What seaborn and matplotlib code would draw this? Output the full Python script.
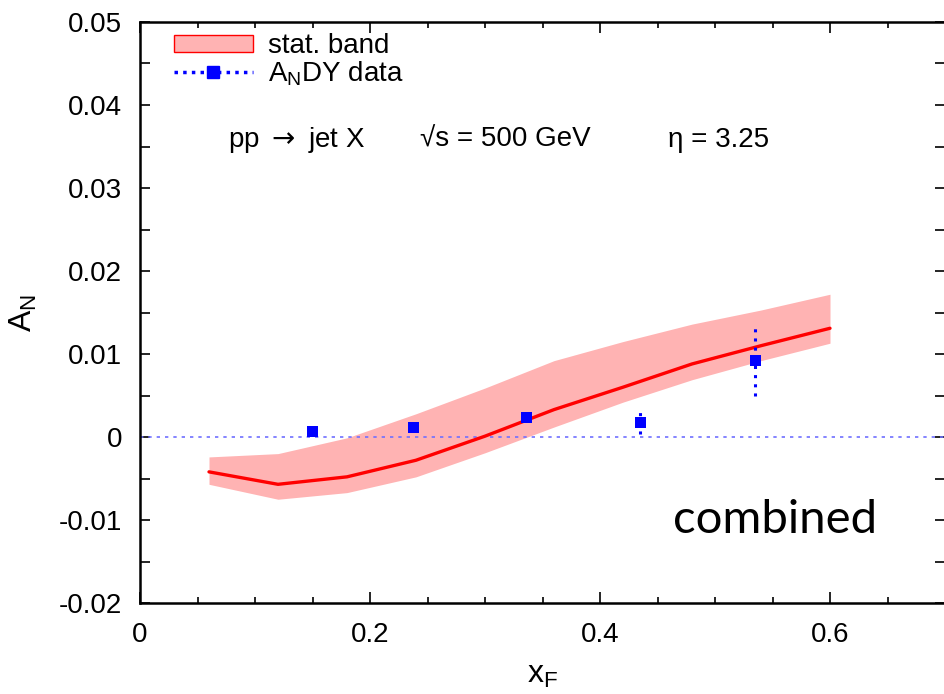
import numpy as np
import pandas as pd
import matplotlib
matplotlib.use("Agg")
import matplotlib.pyplot as plt
from matplotlib.patches import Patch
from matplotlib.lines import Line2D
from matplotlib.ticker import MultipleLocator, FuncFormatter
import seaborn as sns

# Theory curve and its statistical band
xf_theory = [0.06, 0.12, 0.18, 0.24, 0.30, 0.36, 0.42, 0.48, 0.54, 0.60]
an_theory = [-0.0042, -0.0057, -0.0048, -0.0028, 0.0001, 0.0033, 0.0060, 0.0088, 0.0110, 0.0131]
band_low = [-0.0057, -0.0075, -0.0067, -0.0048, -0.0019, 0.0012, 0.0042, 0.0069, 0.0092, 0.0113]
band_high = [-0.0024, -0.0020, -0.0001, 0.0028, 0.0059, 0.0092, 0.0115, 0.0136, 0.0153, 0.0172]

# AnDY measurements
xf_data = [0.150, 0.238, 0.336, 0.435, 0.535]
an_data = [0.0007, 0.0012, 0.0023, 0.0018, 0.0092]
an_err = [0.0004, 0.0004, 0.0004, 0.0014, 0.0042]

sns.set_style("ticks")
plt.rcParams["font.family"] = ["Liberation Sans", "DejaVu Sans"]
plt.rcParams["text.color"] = "black"
plt.rcParams["axes.labelcolor"] = "black"

fig = plt.figure(figsize=(9.44, 6.94), dpi=100)
ax = fig.add_axes([140 / 944, 91 / 694, 805 / 944, 581 / 694])

theory = pd.DataFrame({"xF": xf_theory, "AN": an_theory})
data = pd.DataFrame({"xF": xf_data, "AN": an_data, "err": an_err})

ax.fill_between(xf_theory, band_low, band_high, color="#ffb3b3", lw=0, zorder=1)
sns.lineplot(data=theory, x="xF", y="AN", ax=ax, color="#ff0000", lw=2.4, zorder=3)

ax.axhline(0, color="#6f6fff", lw=1.2, ls=(0, (2, 3)), zorder=2)

eb = ax.errorbar(data["xF"], data["AN"], yerr=data["err"], fmt="none",
                 ecolor="#0000ff", elinewidth=2.2, capsize=0, zorder=4)
for coll in eb[2]:
    coll.set_linestyle((0, (1, 2)))
sns.scatterplot(data=data, x="xF", y="AN", ax=ax, marker="s", s=62,
                color="#0000ff", edgecolor="none", zorder=5)

ax.set_xlim(0, 0.7)
ax.set_ylim(-0.02, 0.05)
ax.xaxis.set_major_locator(MultipleLocator(0.2))
ax.xaxis.set_minor_locator(MultipleLocator(0.05))
ax.yaxis.set_major_locator(MultipleLocator(0.01))
ax.yaxis.set_minor_locator(MultipleLocator(0.005))
ax.xaxis.set_major_formatter(FuncFormatter(lambda v, p: "0" if abs(v) < 1e-9 else f"{v:.1f}"))
ax.yaxis.set_major_formatter(FuncFormatter(lambda v, p: "0" if abs(v) < 1e-9 else f"{v:.2f}"))

ax.tick_params(which="both", direction="in", top=True, right=True,
               labelsize=20, colors="black", width=1.2)
ax.tick_params(axis="x", which="major", length=8, pad=14)
ax.tick_params(axis="x", which="minor", length=4)
ax.tick_params(axis="y", which="both", length=7, pad=13)
for s in ax.spines.values():
    s.set_linewidth(1.8)
    s.set_color("black")

ax.set_xlabel("x$_\\mathregular{F}$", fontsize=23, labelpad=8, color="black")
ax.set_ylabel("A$_\\mathregular{N}$", fontsize=23, labelpad=14, color="black")

ax.text(0.0765, 0.0358, "pp $\\rightarrow$ jet X", fontsize=20, va="center", color="black")
ax.text(0.2435, 0.0358, "\u221as = 500 GeV", fontsize=20, va="center", color="black")
ax.text(0.459, 0.0358, "\u03b7 = 3.25", fontsize=20, va="center", color="black")
ax.text(0.552, -0.0100, "combined", fontsize=34, family=["Lato", "DejaVu Sans"],
        ha="center", va="center", color="black")

handles = [
    Patch(facecolor="#ffb3b3", edgecolor="#ff0000", lw=1),
    Line2D([], [], color="#0000ff", ls=(0, (1, 1.5)), lw=2.5, marker="s", markersize=9),
]
leg = ax.legend(handles, ["stat. band", "A$_\\mathregular{N}$DY data"], loc="upper left",
                bbox_to_anchor=(0.035, 0.99), frameon=False, fontsize=20,
                handlelength=2.85, handleheight=0.55, handletextpad=0.55,
                labelspacing=0.0, borderaxespad=0.0, borderpad=0.2)
for t in leg.get_texts():
    t.set_color("black")

fig.savefig("out.png", dpi=100)
